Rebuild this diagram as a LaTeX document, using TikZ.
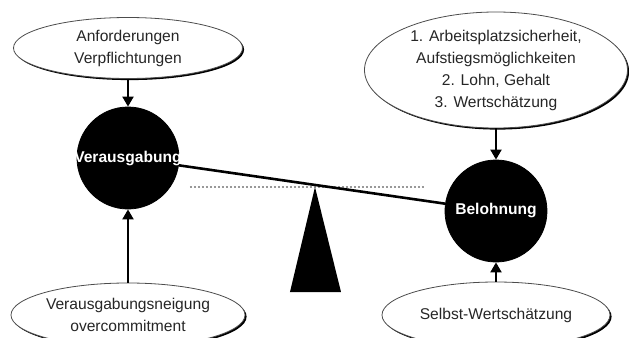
\documentclass[tikz,border=0pt]{standalone}
\usepackage{fontspec}
\setmainfont{Liberation Sans}
\usetikzlibrary{positioning,shapes.geometric,shadows,arrows.meta}

\begin{document}
\begin{tikzpicture}
  [ x=0.5pt, y=-0.5pt
  , every node/.style={font=\fontsize{7.8}{11}\selectfont, text=black!85}
  , weight/.style={draw=black, fill=black, shape=circle, minimum size=51pt, inner sep=0pt}
  , wname/.style={text=white, font=\fontsize{7.8}{11}\selectfont\bfseries}
  , factor/.style={draw=black!70, fill=white, shape=ellipse, inner sep=0pt, align=center,
      drop shadow={shadow xshift=0.8pt, shadow yshift=-0.8pt, fill=black, opacity=1}}
  , push/.style={line width=1pt, -{Triangle[length=5pt,width=5.5pt]}}
  , beam/.style={line width=1.3pt}
  , level/.style={draw=black!40, line width=0.8pt, dash pattern=on 1pt off 1pt}
  ]

  \clip (0,0) rectangle (629,338);

  \node[weight, label={[wname]center:Verausgabung}] (verg) at (128,158) {};
  \node[weight, label={[wname]center:Belohnung}]    (belo) at (496,211) {};

  \node[factor, above of=verg, node distance=55pt,
        minimum width=114.5pt, minimum height=30.5pt] (anfo)
        {Anforderungen\\Verpflichtungen};
  \node[factor, below of=verg, node distance=78.5pt,
        minimum width=117pt, minimum height=32pt] (neig)
        {Verausgabungsneigung\\overcommitment};
  \node[factor, above of=belo, node distance=70.5pt,
        minimum width=131.5pt, minimum height=58pt] (lohn)
        {1. Arbeitsplatzsicherheit,\\Aufstiegsmöglichkeiten\\2. Lohn, Gehalt\\3. Wertschätzung};
  \node[factor, below of=belo, node distance=52pt,
        minimum width=114pt, minimum height=33pt] (selb)
        {Selbst-Wertschätzung};

  \draw[push] (anfo) -- (verg);
  \draw[push] (neig) -- (verg);
  \draw[push] (lohn) -- (belo);
  \draw[push] (selb) -- (belo);

  % waage
  \coordinate (tip)  at (315,187);
  \coordinate (lvlL) at (190,187);
  \coordinate (lvlR) at (425,187);
  \draw[level] (lvlL) -- (lvlR);
  \fill (tip) -- (341,292) -- (290,292) -- cycle;
  \draw[beam] (verg) -- (belo);

\end{tikzpicture}
\end{document}
